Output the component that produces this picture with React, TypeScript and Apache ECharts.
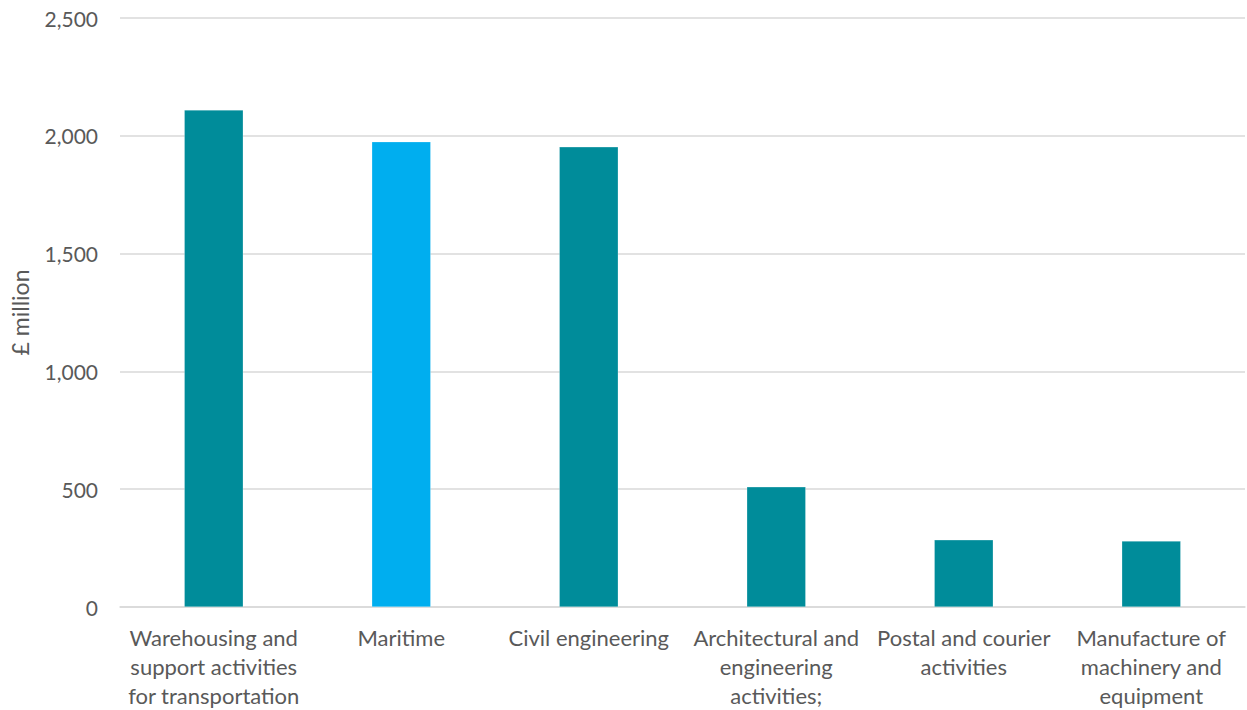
import React, { useEffect, useRef } from "react";
import * as echarts from "echarts";

const categories = [
  "Warehousing and\nsupport activities\nfor transportation",
  "Maritime",
  "Civil engineering",
  "Architectural and\nengineering\nactivities;",
  "Postal and courier\nactivities",
  "Manufacture of\nmachinery and\nequipment",
];
const values = [2110, 1975, 1953, 510, 285, 280];
const barColors = ["#008C9A", "#00AEEF", "#008C9A", "#008C9A", "#008C9A", "#008C9A"];
const yTicks = { min: 0, max: 2500, interval: 500 };

export default function App() {
  const ref = useRef<HTMLDivElement>(null);
  useEffect(() => {
    if (!ref.current) return;
    const chart = echarts.init(ref.current, null, { renderer: "svg" });
    const font = "Lato, 'Noto Sans', sans-serif";
    chart.setOption({
      animation: false,
      grid: { left: 119, right: 2, top: 18, bottom: 103 },
      xAxis: {
        type: "category",
        data: categories,
        axisLine: { lineStyle: { color: "#d9d9d9", width: 1.5 } },
        axisTick: { show: false },
        axisLabel: {
          color: "#595959",
          fontFamily: font,
          fontSize: 22,
          lineHeight: 29,
          margin: 16,
          interval: 0,
        },
      },
      yAxis: {
        type: "value",
        min: yTicks.min,
        max: yTicks.max,
        interval: yTicks.interval,
        name: "£ million",
        nameLocation: "middle",
        nameGap: 89,
        nameTextStyle: { color: "#595959", fontFamily: font, fontSize: 23 },
        axisLabel: {
          color: "#595959",
          fontFamily: font,
          fontSize: 21,
          margin: 22,
          formatter: (v: number) => v.toLocaleString("en-GB"),
        },
        splitLine: { lineStyle: { color: "#d9d9d9", width: 1.5 } },
      },
      series: [
        {
          type: "bar",
          barWidth: 59,
          data: values.map((v, i) => ({ value: v, itemStyle: { color: barColors[i] } })),
          itemStyle: { borderColor: "rgba(255,255,255,0.5)", borderWidth: 0.5 },
        },
      ],
    });
    return () => chart.dispose();
  }, []);
  return (
    <div
      ref={ref}
      style={{ position: "fixed", left: 0, top: 0, width: 1247, height: 710, background: "#fff" }}
    />
  );
}
